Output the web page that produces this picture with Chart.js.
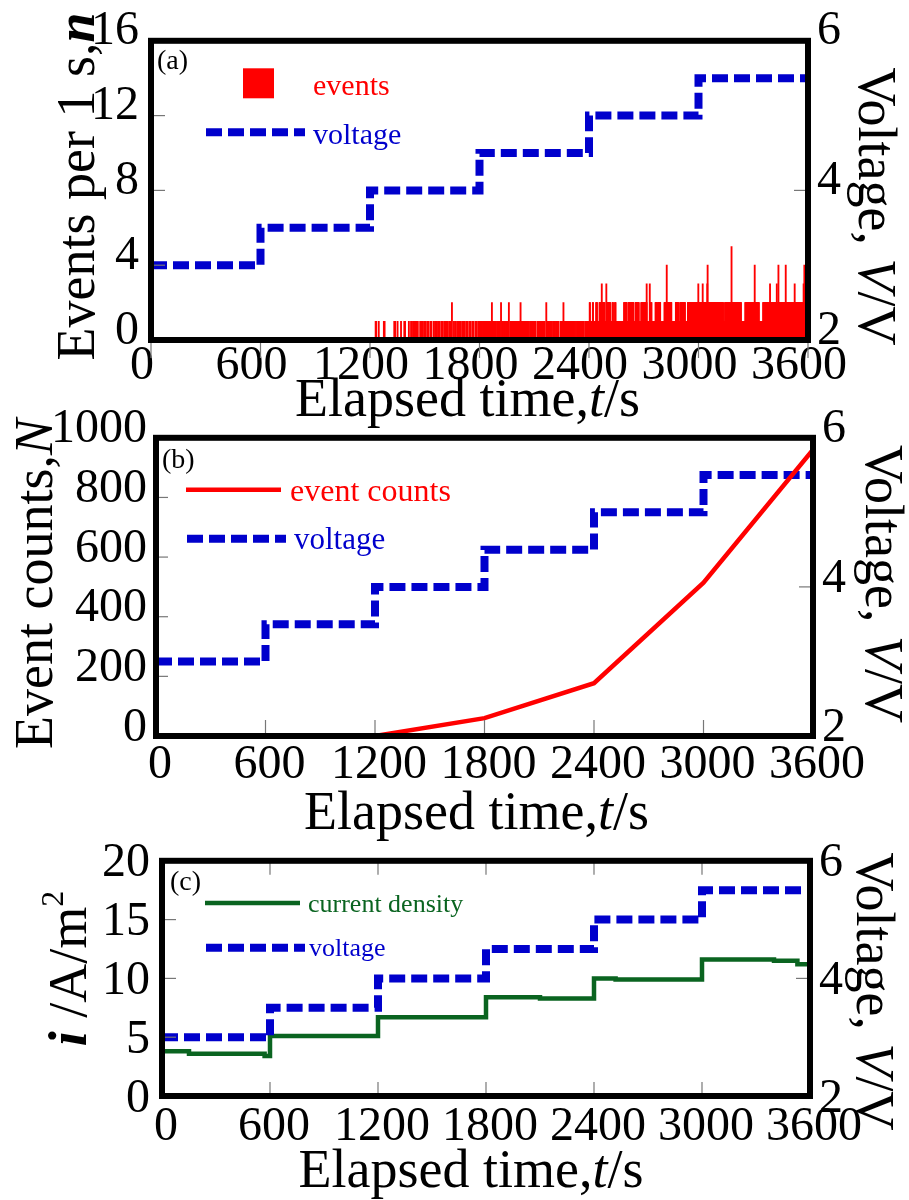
<!DOCTYPE html>
<html>
<head>
<meta charset="utf-8">
<script src="https://cdn.jsdelivr.net/npm/chart.js@4.4.1/dist/chart.umd.min.js"></script>
<style>
  body { margin: 0; background: #fff; }
  #wrap { position: relative; width: 909px; height: 1200px; }
  #wrap canvas { position: absolute; left: 0; }
</style>
</head>
<body>
<div id="wrap">
  <canvas id="chartA" width="909" height="440" style="top:0"></canvas>
  <canvas id="chartB" width="909" height="450" style="top:400px"></canvas>
  <canvas id="chartC" width="909" height="380" style="top:820px"></canvas>
</div>

<script>
// voltage step programme: each level held 600 s
const stepTimes = [0, 600, 1200, 1800, 2400, 3000, 3600];
const voltageLevels = [3.0, 3.5, 4.0, 4.5, 5.0, 5.5];

// (a) events per 1 s
// seconds with a single event before the busy phase
const singleSecs = [
  1231, 1234, 1248, 1276, 1280, 1333, 1338, 1351, 1370, 1388, 1392, 1413,
  1425, 1429, 1436, 1442, 1448, 1456, 1462, 1475, 1481, 1490, 1498, 1505, 1514, 1520, 1531, 1537,
  1550, 1557, 1566, 1573, 1579, 1590, 1596, 1606, 1612, 1621, 1627, 1637, 1643, 1660, 1667, 1677,
  1683, 1692, 1698, 1707, 1714, 1720, 1730, 1735, 1745, 1751, 1761, 1767, 1778, 1784, 1793, 1799,
  1804, 1810, 1814, 1821, 1827, 1831, 1838, 1844, 1849, 1855, 1860, 1866, 1873, 1877, 1884, 1889,
  1896, 1901, 1906, 1912, 1924, 1929, 1935, 1940, 1946, 1952, 1957, 1969, 1974, 1979, 1986, 1991,
  1998, 2003, 2009, 2014, 2020, 2031, 2036, 2043, 2048, 2054, 2059, 2065, 2071, 2078, 2083, 2089,
  2094, 2100, 2106, 2117, 2123, 2128, 2133, 2140, 2145, 2151, 2157, 2169, 2174, 2180, 2185, 2191,
  2197, 2204, 2209, 2214, 2221, 2226, 2231, 2243, 2248, 2255, 2260, 2266, 2271, 2277, 2284, 2289,
  2295, 2301, 2306, 2312, 2317, 2323, 2329, 2336, 2341, 2346, 2352, 2357, 2364, 2370
];
// stretches [from, to] where every second had at least one event
const busyRuns = [[2380, 2676], [2682, 2755], [2761, 3599]];
// seconds / stretches with two or more events
const twoSecs = [1649, 1868, 1918, 1961, 2025, 2166, 2260];
const twoRuns = [
  [2404, 2405], [2421, 2422], [2440, 2443], [2458, 2462], [2470, 2474], [2480, 2483], [2495, 2500],
  [2507, 2515], [2529, 2531], [2543, 2545], [2593, 2597], [2602, 2606], [2618, 2626], [2632, 2642],
  [2655, 2660], [2666, 2672], [2687, 2695], [2700, 2716], [2740, 2742], [2765, 2772], [2780, 2790],
  [2814, 2825], [2832, 2851], [2876, 2888], [2900, 2912], [2917, 2925], [2942, 2960], [2966, 2990],
  [2996, 3020], [3026, 3060], [3066, 3095], [3100, 3134], [3146, 3170], [3176, 3200], [3206, 3232],
  [3257, 3280], [3286, 3330], [3355, 3390], [3396, 3430], [3436, 3470], [3476, 3510], [3516, 3545],
  [3550, 3576], [3580, 3599]
];
const threeSecs = [2470, 2495, 2716, 2733, 2999, 3023, 3048, 3392, 3429, 3478, 3527, 3576];
const threeRuns = [[3584, 3599]];
const fourSecs = [2826, 3050, 3308, 3438, 3478, 3580];
const fiveSecs = [3181];

// (b) cumulative event counts
const countTimes = [0, 600, 1200, 1800, 2400, 3000, 3600];
const eventCounts = [0, 0, 0, 60, 177, 514, 960];

// (c) current density, A/m2 (value holds until the next time)
const currentTimes = [0, 150, 570, 600, 1200, 1800, 2100, 2400, 2520, 3000, 3400, 3530, 3600];
const currentDensity = [3.8, 3.6, 3.4, 5.1, 6.7, 8.4, 8.3, 10.0, 9.9, 11.6, 11.5, 11.2, 11.2];

const SERIF = '"Liberation Serif", "Times New Roman", serif';
const RED = '#ff0000', BLUE = '#0000cc', GREEN = '#0a6420';

// per-second event counts -> bar points
const perSecond = new Array(3600).fill(0);
const mark = (t, n) => { if (perSecond[t] < n) perSecond[t] = n; };
const markRuns = (runs, n) => runs.forEach(([a, b]) => { for (let t = a; t <= b; t++) mark(t, n); });
singleSecs.forEach(t => mark(t, 1));
markRuns(busyRuns, 1);
twoSecs.forEach(t => mark(t, 2));
markRuns(twoRuns, 2);
threeSecs.forEach(t => mark(t, 3));
markRuns(threeRuns, 3);
fourSecs.forEach(t => mark(t, 4));
fiveSecs.forEach(t => mark(t, 5));
const eventBars = [];
perSecond.forEach((n, t) => { if (n) eventBars.push({ x: t, y: n }); });

const voltagePts = stepTimes.map((t, i) => ({ x: t, y: voltageLevels[Math.min(i, voltageLevels.length - 1)] }));
const countPts = countTimes.map((t, i) => ({ x: t, y: eventCounts[i] }));
const currentPts = currentTimes.map((t, i) => ({ x: t, y: currentDensity[i] }));

// thick box round the plot plus the small tick marks
const frame = {
  id: 'frame',
  afterDatasetsDraw(chart, args, opts) {
    const { ctx, chartArea: a } = chart;
    ctx.save();
    ctx.strokeStyle = '#777';
    ctx.lineWidth = 1.2;
    (opts.marks || []).forEach(([axis, side, len]) => {
      const s = chart.scales[axis];
      s.ticks.forEach(tk => {
        const p = s.getPixelForValue(tk.value);
        ctx.beginPath();
        if (side === 'bottom') { ctx.moveTo(p, a.bottom); ctx.lineTo(p, a.bottom - len); }
        if (side === 'top') { ctx.moveTo(p, a.top); ctx.lineTo(p, a.top + len); }
        if (side === 'left') { ctx.moveTo(a.left, p); ctx.lineTo(a.left + len, p); }
        if (side === 'right') { ctx.moveTo(a.right, p); ctx.lineTo(a.right - len, p); }
        ctx.stroke();
      });
    });
    ctx.strokeStyle = '#000';
    ctx.lineWidth = 6;
    ctx.strokeRect(a.left, a.top, a.width, a.height);
    ctx.restore();
  }
};

// in-plot key and panel tag
const keyBox = {
  id: 'keyBox',
  afterDraw(chart, args, opts) {
    const { ctx, chartArea: a } = chart;
    ctx.save();
    ctx.textBaseline = 'alphabetic';
    ctx.fillStyle = '#000';
    ctx.font = `28px ${SERIF}`;
    ctx.fillText(opts.tag, a.left + opts.tagAt[0], a.top + opts.tagAt[1]);
    opts.items.forEach(it => {
      const ds = chart.data.datasets[it.ds];
      const col = ds.borderColor;
      ctx.fillStyle = col;
      ctx.strokeStyle = col;
      if (it.box) ctx.fillRect(a.left + it.box[0], a.top + it.box[1], it.box[2], it.box[3]);
      if (it.line) {
        ctx.lineWidth = ds.borderWidth;
        ctx.setLineDash(ds.borderDash || []);
        ctx.beginPath();
        ctx.moveTo(a.left + it.line[0], a.top + it.line[2]);
        ctx.lineTo(a.left + it.line[1], a.top + it.line[2]);
        ctx.stroke();
        ctx.setLineDash([]);
      }
      ctx.font = `${it.size}px ${SERIF}`;
      ctx.fillText(ds.label, a.left + it.textAt[0], a.top + it.textAt[1]);
    });
    ctx.restore();
  }
};

// axis titles with italic symbols and superscripts
const richTitles = {
  id: 'richTitles',
  afterDraw(chart, args, opts) {
    const { ctx, chartArea: a } = chart;
    const cx = (a.left + a.right) / 2, cy = (a.top + a.bottom) / 2;
    const put = (spec, x, y, rot) => {
      const size = spec.size;
      const fontOf = p => `${p.i ? 'italic ' : ''}${p.b ? 'bold ' : ''}${p.sup ? Math.round(size * 0.6) : size}px ${SERIF}`;
      ctx.save();
      ctx.translate(x, y);
      ctx.rotate(rot);
      ctx.fillStyle = '#000';
      ctx.textBaseline = 'alphabetic';
      let w = 0;
      spec.parts.forEach(p => { ctx.font = fontOf(p); w += ctx.measureText(p.t).width; });
      let px = -w / 2;
      spec.parts.forEach(p => {
        ctx.font = fontOf(p);
        ctx.fillText(p.t, px, p.sup ? -size * 0.42 : 0);
        px += ctx.measureText(p.t).width;
      });
      ctx.restore();
    };
    const { bottom: b, left: l, right: r } = opts;
    put(b, cx + b.dx, a.bottom + b.dy, 0);
    put(l, a.left - l.dx, cy + l.dy, -Math.PI / 2);
    put(r, a.right + r.dx, cy + r.dy, Math.PI / 2);
  }
};

const timeTitle = [{ t: 'Elapsed time,' }, { t: 't', i: 1 }, { t: '/s' }];
const voltTitle = [{ t: 'Voltage, ' }, { t: 'V', i: 1 }, { t: '/V' }];
const plain = v => String(v);

function panelOptions(p) {
  const tickFont = { family: SERIF, size: 48 };
  return {
    responsive: false,
    animation: false,
    layout: { padding: { top: p.top, left: 0, right: 0, bottom: 0 } },
    plugins: {
      legend: { display: false },
      tooltip: { enabled: false },
      frame: { marks: p.marks },
      keyBox: p.key,
      richTitles: p.titles
    },
    scales: {
      x: {
        type: 'linear', min: 0, max: 3600, offset: false,
        grid: { display: false, drawTicks: false }, border: { display: false },
        ticks: { stepSize: 600, font: tickFont, color: '#000', padding: p.xPad, labelOffset: p.xShift,
                 maxRotation: 0, autoSkip: false, callback: plain },
        afterFit: s => { s.height = p.xHeight; }
      },
      y: {
        position: 'left', min: p.yMin, max: p.yMax,
        grid: { display: false, drawTicks: false }, border: { display: false },
        ticks: { stepSize: p.yStep, font: tickFont, color: '#000', padding: p.yPad, labelOffset: p.yShift,
                 autoSkip: false, callback: plain },
        afterFit: s => { s.width = p.leftW; }
      },
      y2: {
        position: 'right', min: 2, max: 6,
        grid: { display: false, drawTicks: false }, border: { display: false },
        ticks: { stepSize: 2, font: tickFont, color: '#000', padding: 9, labelOffset: p.yShift,
                 autoSkip: false, callback: plain },
        afterFit: s => { s.width = p.rightW; }
      }
    }
  };
}

const voltageSet = (order) => ({
  type: 'line', label: 'voltage', data: voltagePts, yAxisID: 'y2',
  borderColor: BLUE, backgroundColor: BLUE, borderWidth: 8, borderDash: [16, 6],
  borderCapStyle: 'butt', stepped: 'before', pointRadius: 0, order: order
});

// (a) events per second
new Chart(document.getElementById('chartA'), {
  type: 'bar',
  data: {
    datasets: [
      { label: 'events', data: eventBars, yAxisID: 'y', backgroundColor: RED, borderColor: RED,
        borderWidth: 0, barThickness: 1.2, grouped: false, order: 2 },
      voltageSet(1)
    ]
  },
  options: panelOptions({
    top: 40.5, leftW: 151, rightW: 101, xHeight: 100,
    yMin: 0, yMax: 16, yStep: 4, yPad: 12, yShift: -9, xPad: -2, xShift: -9,
    marks: [['x', 'bottom', -18], ['y', 'left', 14], ['y2', 'right', 14]],
    key: {
      tag: '(a)', tagAt: [6, 28.5],
      items: [
        { ds: 0, box: [92, 27.5, 31, 30], textAt: [162, 54.5], size: 30 },
        { ds: 1, line: [55, 154, 91.5], textAt: [162, 103.5], size: 30 }
      ]
    },
    titles: {
      bottom: { parts: timeTitle, size: 54, dx: -12, dy: 76 },
      left: { parts: [{ t: 'Events per 1 s,' }, { t: 'n', i: 1, b: 1 }], size: 54, dx: 57, dy: -4 },
      right: { parts: voltTitle, size: 54, dx: 51, dy: 16 }
    }
  }),
  plugins: [frame, keyBox, richTitles]
});

// (b) cumulative event counts
new Chart(document.getElementById('chartB'), {
  type: 'line',
  data: {
    datasets: [
      { label: 'event counts', data: countPts, yAxisID: 'y', borderColor: RED, backgroundColor: RED,
        borderWidth: 4.5, pointRadius: 0, tension: 0, order: 0 },
      voltageSet(1)
    ]
  },
  options: panelOptions({
    top: 36, leftW: 156, rightW: 96, xHeight: 114,
    yMin: 0, yMax: 1000, yStep: 200, yPad: 9, yShift: -8, xPad: 1, xShift: 4,
    marks: [['x', 'bottom', 16], ['y', 'left', 12], ['y2', 'right', 14]],
    key: {
      tag: '(b)', tagAt: [6, 30],
      items: [
        { ds: 0, line: [30, 125, 52], textAt: [134, 63], size: 32 },
        { ds: 1, line: [31, 130, 101], textAt: [138, 111], size: 31 }
      ]
    },
    titles: {
      bottom: { parts: timeTitle, size: 54, dx: -8, dy: 93 },
      left: { parts: [{ t: 'Event counts,' }, { t: 'N', i: 1 }], size: 54, dx: 104, dy: -3 },
      right: { parts: voltTitle, size: 54, dx: 53, dy: -3 }
    }
  }),
  plugins: [frame, keyBox, richTitles]
});

// (c) current density
new Chart(document.getElementById('chartC'), {
  type: 'line',
  data: {
    datasets: [
      { label: 'current density', data: currentPts, yAxisID: 'y', borderColor: GREEN, backgroundColor: GREEN,
        borderWidth: 4.5, pointRadius: 0, stepped: 'before', order: 2 },
      voltageSet(1)
    ]
  },
  options: panelOptions({
    top: 27, leftW: 162, rightW: 99, xHeight: 104,
    yMin: 0, yMax: 20, yStep: 5, yPad: 12, yShift: 3, xPad: 3, xShift: 4,
    marks: [['x', 'bottom', 14], ['x', 'top', 14], ['y', 'left', 14], ['y2', 'right', 14]],
    key: {
      tag: '(c)', tagAt: [8, 29],
      items: [
        { ds: 0, line: [43, 138, 42.3], textAt: [146, 51], size: 26 },
        { ds: 1, line: [44, 143, 87], textAt: [147, 95], size: 26 }
      ]
    },
    titles: {
      bottom: { parts: timeTitle, size: 54, dx: -15, dy: 91 },
      left: { parts: [{ t: 'i', i: 1, b: 1 }, { t: ' /A/m' }, { t: '2', sup: 1 }], size: 54, dx: 76, dy: -10 },
      right: { parts: voltTitle, size: 54, dx: 47, dy: 13 }
    }
  }),
  plugins: [frame, keyBox, richTitles]
});
</script>
</body>
</html>
